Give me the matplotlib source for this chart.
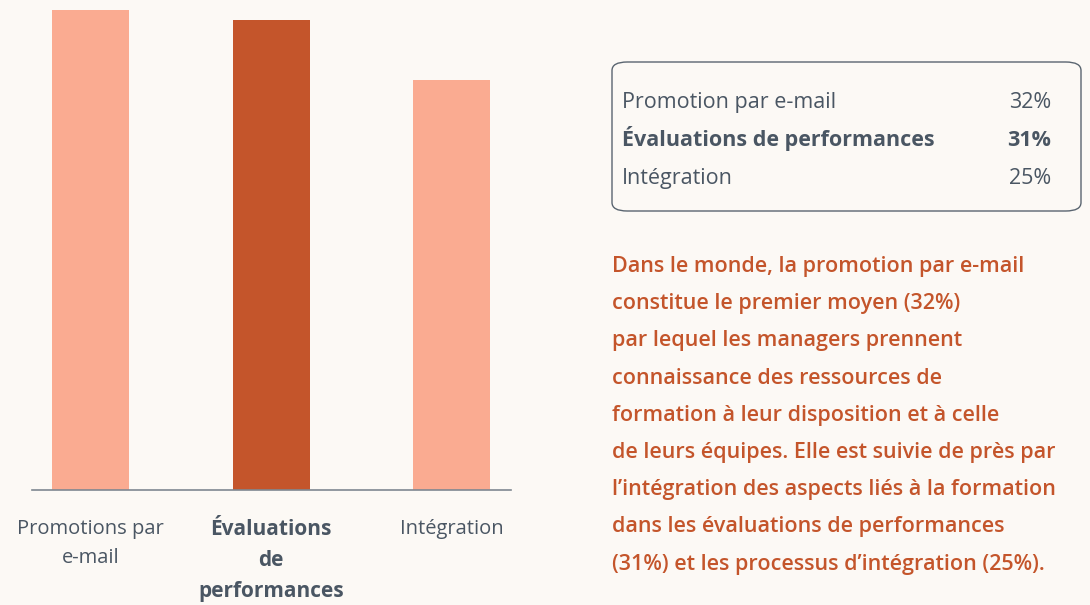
import matplotlib.pyplot as plt
from matplotlib.patches import FancyBboxPatch
import numpy as np

categories = ["Promotions par\ne-mail", "Évaluations\nde\nperformances", "Intégration"]
values = [32, 31, 25]
highlight = [False, True, False]

table_labels = ["Promotion par e-mail", "Évaluations de performances", "Intégration"]
table_values = ["32%", "31%", "25%"]

paragraph = [
    "Dans le monde, la promotion par e-mail",
    "constitue le premier moyen (32%)",
    "par lequel les managers prennent",
    "connaissance des ressources de",
    "formation à leur disposition et à celle",
    "de leurs équipes. Elle est suivie de près par",
    "l’intégration des aspects liés à la formation",
    "dans les évaluations de performances",
    "(31%) et les processus d’intégration (25%).",
]

BG = "#FCF9F5"
LIGHT = "#FAAB91"
DARK = "#C4552B"
GREY = "#4A5663"
BASE = -16  # visual baseline of the bars

plt.rcParams['font.family'] = ['Open Sans', 'DejaVu Sans']

W, H = 1090, 605
fig = plt.figure(figsize=(W / 100, H / 100), dpi=100, facecolor=BG)

def px(x, y):
    return x / W, 1 - y / H

ax = fig.add_axes([32 / W, (H - 490) / H, (511 - 32) / W, 490 / H])
ax.set_facecolor(BG)
x = np.arange(len(values))
colors = [DARK if h else LIGHT for h in highlight]
ax.bar(x, np.array(values) - BASE, bottom=BASE, width=0.427, color=colors)
ax.set_xlim(-0.325, 2.33)
ax.set_ylim(BASE, 33)
for s in ["top", "right", "left"]:
    ax.spines[s].set_visible(False)
ax.spines["bottom"].set_color("#7F8891")
ax.spines["bottom"].set_linewidth(1.2)
ax.set_yticks([])
ax.set_xticks(x)
ax.set_xticklabels(categories, fontsize=14.5, color=GREY, linespacing=1.62)
for lbl, h in zip(ax.get_xticklabels(), highlight):
    lbl.set_fontweight("bold" if h else "normal")
    if h:
        lbl.set_fontsize(15)
ax.tick_params(axis="x", length=0, pad=21)

# summary table
box = FancyBboxPatch(px(612, 211), (1081 - 612) / W, (211 - 62) / H,
                     boxstyle="round,pad=0,rounding_size=0.014",
                     transform=fig.transFigure, facecolor="none",
                     edgecolor="#5A6570", linewidth=1.0)
fig.patches.append(box)
for i, (lab, val) in enumerate(zip(table_labels, table_values)):
    y = 108 + i * 38
    w = "bold" if highlight[i] else "normal"
    fig.text(*px(622, y), lab, fontsize=15.5, color=GREY, fontweight=w, va="baseline", ha="left")
    fig.text(*px(1051, y), val, fontsize=15.5, color=GREY, fontweight=w, va="baseline", ha="right")

for i, line in enumerate(paragraph):
    fig.text(*px(612, 272 + i * 37.2), line, fontsize=15.5, color=DARK,
             fontweight="semibold", va="baseline", ha="left")

fig.savefig("out.png", dpi=100, facecolor=BG)
